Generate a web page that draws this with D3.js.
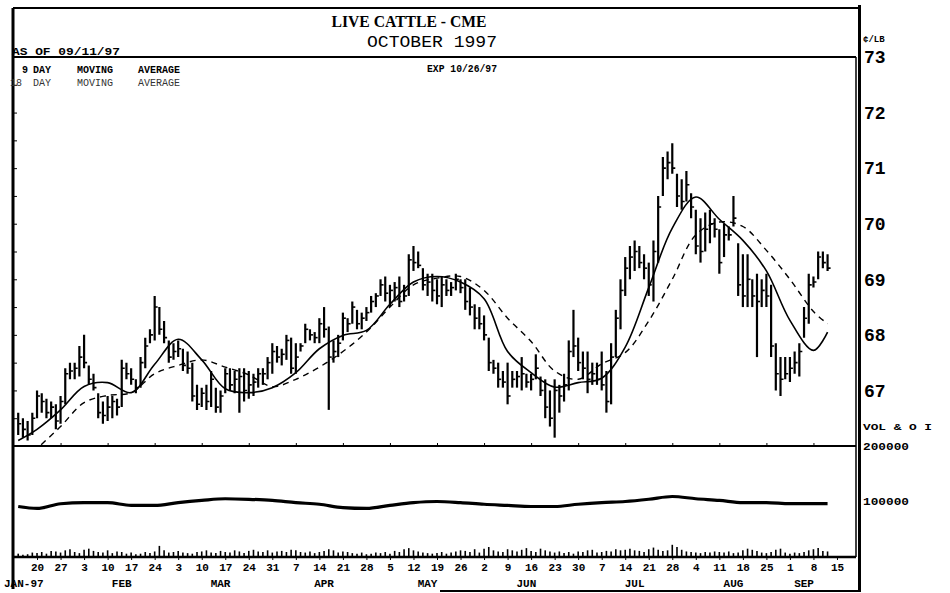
<!DOCTYPE html>
<html>
<head>
<meta charset="utf-8">
<script src="https://cdn.jsdelivr.net/npm/d3@7"></script>
<style>
body { margin: 0; background: #fff; }
svg { display: block; }
text { font-family: "Liberation Mono", "DejaVu Sans Mono", monospace; font-weight: bold; fill: #000; }
</style>
</head>
<body>
<div id="chart"></div>
<script>
// daily bars, one per weekday from 1997-01-14 to 1997-09-11
var firstDay = new Date(1997, 0, 14),
    lastDay = new Date(1997, 8, 11);

var highs = [66.6, 66.5, 66.45, 66.6,
    67.0, 66.95, 66.85, 66.8, 66.75,   66.9, 67.4, 67.5, 67.5, 67.8,
    68.0, 67.45, 67.3, 66.95, 66.8,    66.9, 66.9, 66.85, 67.55, 67.5,
    67.4, 67.2, 67.6, 67.95, 68.1,     68.7, 68.5, 68.25, 67.9, 67.85,
    67.9, 67.75, 67.7, 67.5, 67.1,     67.05, 67.1, 67.35, 67.05, 67.0,
    67.4, 67.4, 67.35, 67.4, 67.4,     67.35, 67.3, 67.4, 67.4, 67.6,
    67.85, 67.8, 67.75, 68.0, 67.95,   67.85, 67.85, 68.2, 68.1, 68.05,
    68.3, 68.5, 68.15, 67.9, 68.0,     68.4, 68.3, 68.6, 68.45, 68.4,
    68.5, 68.7, 68.75, 69.0, 69.05,    68.9, 68.95, 69.05, 68.9, 69.45,
    69.6, 69.5, 69.2, 69.1, 69.1,      69.0, 69.05, 69.0, 68.95, 69.1,
    69.0, 69.0, 68.85, 68.55, 68.5,    68.35, 67.95, 67.55, 67.5, 67.35,
    67.5, 67.35, 67.35, 67.6, 67.3,    67.3, 67.65, 67.25, 67.2, 67.0,
    67.2, 67.1, 67.3, 67.9, 68.45,     67.95, 67.7, 67.7, 67.5, 67.5,
    67.7, 67.35, 67.85, 68.45, 69.0,   69.4, 69.6, 69.7, 69.6, 69.45,
    69.3, 69.7, 70.5, 71.2, 71.3,      71.45, 70.9, 70.8, 70.95, 70.55,
    70.25, 70.1, 70.2, 70.25, 70.1,    69.9, 70.0, 69.95, 70.5, 69.65,
    69.45, 69.45, 69.0, 69.1, 69.0,    69.1, 68.9, 67.85, 67.6, 67.6,
    67.6, 67.7, 67.85, 68.5, 69.1,     69.05, 69.5, 69.5, 69.45];

var lows = [66.2, 66.15, 66.1, 66.2,
    66.5, 66.6, 66.5, 66.5, 66.3,      66.4, 66.75, 67.2, 67.2, 67.25,
    67.4, 67.1, 67.0, 66.5, 66.4,      66.45, 66.5, 66.55, 66.7, 67.2,
    67.1, 66.95, 67.05, 67.4, 67.85,   67.9, 68.0, 67.85, 67.5, 67.55,
    67.6, 67.35, 67.3, 66.8, 66.65,    66.7, 66.65, 66.7, 66.6, 66.6,
    66.95, 67.0, 66.95, 66.6, 66.8,    66.85, 66.9, 67.05, 67.1, 67.2,
    67.3, 67.5, 67.45, 67.55, 67.3,    67.3, 67.7, 67.85, 67.9, 67.85,
    67.85, 67.95, 66.65, 67.5, 67.6,   67.9, 68.05, 68.2, 68.1, 68.1,
    68.25, 68.4, 68.5, 68.7, 68.6,     68.5, 68.6, 68.5, 68.6, 68.7,
    69.15, 69.2, 68.8, 68.7, 68.6,     68.55, 68.5, 68.7, 68.7, 68.8,
    68.75, 68.45, 68.35, 68.1, 68.1,   67.9, 67.35, 67.3, 67.05, 67.05,
    66.75, 67.05, 67.05, 67.0, 67.05,  67.0, 67.2, 66.9, 66.5, 66.35,
    66.15, 66.6, 66.8, 67.0, 67.6,     67.35, 67.2, 66.95, 67.1, 67.1,
    67.0, 66.6, 66.75, 67.6, 68.1,     68.7, 69.0, 69.15, 69.2, 69.0,
    68.7, 68.6, 69.3, 70.5, 70.8,      70.9, 70.3, 70.25, 70.4, 70.1,
    69.45, 69.3, 69.5, 69.65, 69.75,   69.1, 69.4, 69.7, 69.95, 68.7,
    68.5, 68.5, 68.5, 67.6, 68.5,      68.5, 67.6, 67.0, 66.9, 67.2,
    67.15, 67.3, 67.25, 67.95, 68.2,   68.85, 69.0, 69.2, 69.15];

var closes = [66.4, 66.3, 66.2, 66.5,
    66.9, 66.8, 66.6, 66.7, 66.45,     66.8, 67.3, 67.35, 67.4, 67.6,
    67.5, 67.2, 67.05, 66.6, 66.55,    66.7, 66.8, 66.7, 67.4, 67.3,
    67.2, 67.05, 67.5, 67.8, 68.0,     68.5, 68.1, 67.95, 67.6, 67.7,
    67.75, 67.45, 67.4, 66.9, 66.75,   66.95, 66.8, 67.2, 66.7, 66.9,
    67.3, 67.1, 67.2, 67.25, 67.0,     67.1, 67.15, 67.3, 67.3, 67.5,
    67.7, 67.6, 67.65, 67.9, 67.4,     67.6, 67.8, 68.1, 68.0, 67.95,
    68.2, 68.1, 67.6, 67.7, 67.85,     68.3, 68.2, 68.5, 68.2, 68.3,
    68.4, 68.6, 68.7, 68.9, 68.75,     68.8, 68.85, 68.6, 68.7, 69.35,
    69.3, 69.25, 68.9, 68.95, 68.8,    68.7, 68.9, 68.8, 68.85, 69.0,
    68.85, 68.6, 68.5, 68.3, 68.2,     68.0, 67.5, 67.4, 67.2, 67.15,
    66.9, 67.2, 67.25, 67.3, 67.15,    67.2, 67.4, 67.0, 66.7, 66.5,
    67.0, 66.9, 67.1, 67.7, 67.8,      67.5, 67.4, 67.2, 67.3, 67.2,
    67.1, 66.8, 67.6, 68.3, 68.8,      69.2, 69.4, 69.5, 69.3, 69.2,
    68.9, 69.5, 70.3, 71.0, 71.1,      71.0, 70.5, 70.4, 70.7, 70.3,
    69.6, 69.5, 69.9, 70.0, 69.9,      69.3, 69.8, 69.8, 70.1, 68.9,
    68.7, 69.0, 68.7, 68.6, 68.8,      68.7, 67.8, 67.3, 67.2, 67.3,
    67.4, 67.5, 67.7, 68.3, 68.9,      68.95, 69.4, 69.3, 69.2];

// daily volume, thousands of contracts
var volume = [6, 4, 5, 8,
    7, 9, 6, 11, 10,    8, 12, 14, 9, 7,    13, 15, 11, 9, 8,   12, 7, 10, 9, 6,
    8, 5, 6, 9, 7,      10, 20, 12, 8, 9,   11, 8, 7, 6, 9,     10, 12, 8, 7, 11,
    9, 8, 12, 10, 7,    11, 13, 10, 9, 12,  8, 10, 11, 9, 13,   12, 9, 8, 10, 7,
    9, 11, 14, 12, 8,   10, 9, 7, 6, 8,     5, 6, 8, 7, 9,      6, 11, 9, 14, 16,
    12, 10, 8, 7, 6,    7, 9, 6, 8, 10,     12, 11, 9, 14, 8,   15, 18, 12, 10, 9,
    14, 12, 10, 13, 16, 11, 9, 15, 12, 10,  8, 10, 7, 9, 6,     10, 9, 12, 13, 8,
    9, 11, 10, 14, 12,  13, 15, 12, 11, 9,  14, 17, 13, 11, 12, 22, 18, 13, 10, 9,
    8, 7, 9, 8, 10,     9, 8, 10, 7, 8,     12, 15, 13, 11, 8,  7, 9, 13, 15, 8,
    6, 8, 7, 9, 12,     14, 16, 11, 10];

// weekly readings (first day, every Monday, last day)
var ma9 = [66.1, 66.3, 66.65, 67.07, 67.14, 66.96, 67.47, 67.92, 67.55, 67.03, 66.96,
    67.05, 67.32, 67.75, 67.99, 68.08, 68.55, 68.95, 69.05, 68.95, 68.65, 67.7,
    67.32, 67.06, 67.14, 67.22, 67.78, 68.85, 69.92, 70.48, 70.08, 69.7, 69.15,
    68.26, 67.72, 68.05];
var ma18 = [65.6, 65.95, 66.35, 66.78, 66.91, 66.96, 67.3, 67.45, 67.55, 67.42, 67.28,
    67.07, 67.2, 67.42, 67.7, 68.05, 68.5, 68.9, 69.02, 69.05, 68.8, 68.3,
    67.88, 67.35, 67.2, 67.48, 67.68, 68.25, 69.0, 69.8, 70.03, 69.95, 69.52,
    69.0, 68.42, 68.2];
// open interest, thousands
var openInterest = [91, 87.5, 96, 98, 98, 93, 93, 98, 102, 105, 104, 102, 98, 95, 89,
    87.5, 93, 98, 100, 98, 95, 93, 91, 91, 95, 98, 100, 104, 109, 105, 102, 98,
    98, 96, 96, 96];

var priceTicks = [67, 68, 69, 70, 71, 72, 73];
var volTicks = [100000, 200000];
var monthNames = ["JAN-97", "FEB", "MAR", "APR", "MAY", "JUN", "JUL", "AUG", "SEP"];
var monthDates = ["1997-01-13", "1997-02-13", "1997-03-14", "1997-04-15", "1997-05-15",
    "1997-06-13", "1997-07-16", "1997-08-14", "1997-09-04"];

// layout
var width = 950, height = 593;
var left = 13.5, right = 855.8,
    priceTop = 57, priceBottom = 446, volBottom = 557;

var svg = d3.select("#chart").append("svg")
    .attr("width", width)
    .attr("height", height);

var fmt = d3.timeFormat("%Y-%m-%d");
var isWeekday = function(d) { return d.getDay() > 0 && d.getDay() < 6; };

// weekday calendar so each trading day gets the same slot
var calendar = d3.timeDay.range(new Date(1997, 0, 13), new Date(1997, 8, 20)).filter(isWeekday);
var x = d3.scalePoint()
    .domain(calendar.map(fmt))
    .range([left, right]);

var days = calendar.filter(function(d) { return d >= firstDay && d <= lastDay; });
var bars = days.map(function(d, i) {
    return {date: fmt(d), high: highs[i], low: lows[i], close: closes[i], vol: volume[i]};
});

var mondays = d3.timeMonday.range(new Date(1997, 0, 20), new Date(1997, 8, 16));
var weekly = [firstDay].concat(mondays.filter(function(d) { return d <= lastDay; }), [lastDay]).map(fmt);

var y = d3.scaleLinear().domain([66, 73]).range([priceBottom, priceTop]);
var yv = d3.scaleLinear().domain([0, 200000]).range([volBottom, priceBottom]);

svg.append("clipPath").attr("id", "priceClip")
    .append("rect")
    .attr("x", left).attr("y", priceTop)
    .attr("width", right - left).attr("height", priceBottom - priceTop);

// price bars
var gp = svg.append("g").attr("clip-path", "url(#priceClip)");

gp.selectAll("line.hl")
    .data(bars)
    .enter().append("line")
    .attr("class", "hl")
    .attr("x1", function(d) { return x(d.date); })
    .attr("x2", function(d) { return x(d.date); })
    .attr("y1", function(d) { return y(d.high); })
    .attr("y2", function(d) { return y(d.low); })
    .attr("stroke", "#000")
    .attr("stroke-width", 2.2);

gp.selectAll("line.cl")
    .data(bars)
    .enter().append("line")
    .attr("class", "cl")
    .attr("x1", function(d) { return x(d.date); })
    .attr("x2", function(d) { return x(d.date) + 3; })
    .attr("y1", function(d) { return y(d.close); })
    .attr("y2", function(d) { return y(d.close); })
    .attr("stroke", "#000")
    .attr("stroke-width", 1.6);

// moving averages
var maLine = function(vals) {
    return d3.line()
        .x(function(d, i) { return x(weekly[i]); })
        .y(function(d) { return y(d); })
        .curve(d3.curveCatmullRom)(vals);
};

gp.append("path")
    .attr("d", maLine(ma9))
    .attr("fill", "none")
    .attr("stroke", "#000")
    .attr("stroke-width", 1.6);

gp.append("path")
    .attr("d", maLine(ma18))
    .attr("fill", "none")
    .attr("stroke", "#000")
    .attr("stroke-width", 1.4)
    .attr("stroke-dasharray", "6,5");

// volume bars
svg.append("g").selectAll("line")
    .data(bars)
    .enter().append("line")
    .attr("x1", function(d) { return x(d.date); })
    .attr("x2", function(d) { return x(d.date); })
    .attr("y1", yv(0))
    .attr("y2", function(d) { return yv(d.vol * 1000); })
    .attr("stroke", "#000")
    .attr("stroke-width", 1.6);

// open interest
svg.append("path")
    .datum(openInterest)
    .attr("d", d3.line()
        .x(function(d, i) { return x(weekly[i]); })
        .y(function(d) { return yv(d * 1000); })
        .curve(d3.curveMonotoneX))
    .attr("fill", "none")
    .attr("stroke", "#000")
    .attr("stroke-width", 3.2);

// frame
var frame = svg.append("g").attr("stroke", "#000").attr("fill", "none");
frame.append("line").attr("x1", 13).attr("x2", 860).attr("y1", 8).attr("y2", 8).attr("stroke-width", 2);
frame.append("line").attr("x1", 13).attr("x2", 856).attr("y1", priceTop).attr("y2", priceTop).attr("stroke-width", 2);
frame.append("line").attr("x1", 13).attr("x2", 856).attr("y1", priceBottom).attr("y2", priceBottom).attr("stroke-width", 2);
frame.append("line").attr("x1", 13).attr("x2", 856).attr("y1", volBottom).attr("y2", volBottom).attr("stroke-width", 2.5);
frame.append("line").attr("x1", 13).attr("x2", 13).attr("y1", 8).attr("y2", 589).attr("stroke-width", 3);
frame.append("line").attr("x1", 856).attr("x2", 856).attr("y1", priceTop).attr("y2", volBottom).attr("stroke-width", 1.5);
frame.append("line").attr("x1", 859.5).attr("x2", 859.5).attr("y1", 5).attr("y2", 592).attr("stroke-width", 3);
frame.append("line").attr("x1", 440).attr("x2", 861).attr("y1", 591).attr("y2", 591).attr("stroke-width", 2);

// small ticks on the left edge and on the panel divider
svg.append("g")
    .attr("transform", "translate(14,0)")
    .call(d3.axisRight(y).tickValues(d3.range(66.5, 73, 0.5)).tickSize(3).tickFormat(""))
    .call(function(g) { g.select(".domain").remove(); });

svg.append("g")
    .attr("transform", "translate(0," + priceBottom + ")")
    .call(d3.axisTop(x).tickValues(mondays.filter(function(d, i) { return i % 2 === 1; }).map(fmt)).tickSize(3).tickFormat(""))
    .call(function(g) { g.select(".domain").remove(); });

// price axis
svg.append("g")
    .attr("transform", "translate(860,0)")
    .call(d3.axisRight(y).tickValues(priceTicks).tickSize(0).tickPadding(4).tickFormat(d3.format("d")))
    .call(function(g) {
        g.select(".domain").remove();
        g.selectAll("text").style("font-size", "18px").style("font-family", "'Liberation Mono', monospace");
    });

// volume axis
svg.append("g")
    .attr("transform", "translate(860,0)")
    .call(d3.axisRight(yv).tickValues(volTicks).tickSize(0).tickPadding(3).tickFormat(d3.format("d")))
    .call(function(g) {
        g.select(".domain").remove();
        g.selectAll("text").style("font-size", "10px").attr("textLength", 46).attr("lengthAdjust", "spacingAndGlyphs");
    });

// date axis
svg.append("g")
    .attr("transform", "translate(0," + volBottom + ")")
    .call(d3.axisBottom(x)
        .tickValues(mondays.map(fmt))
        .tickSize(3)
        .tickPadding(3)
        .tickFormat(function(k) { return +k.slice(8); }))
    .call(function(g) {
        g.select(".domain").remove();
        g.selectAll("text").style("font-size", "11px").style("font-family", "'Liberation Mono', monospace");
    });

svg.append("g").selectAll("text")
    .data(monthNames)
    .enter().append("text")
    .attr("x", function(d, i) { return i === 0 ? 4 : x(monthDates[i]); })
    .attr("y", 587)
    .attr("text-anchor", function(d, i) { return i === 0 ? "start" : "middle"; })
    .style("font-size", "11px")
    .text(function(d) { return d; });

// titles and notes
svg.append("text").attr("x", 409).attr("y", 27).attr("text-anchor", "middle")
    .attr("textLength", 155).attr("lengthAdjust", "spacingAndGlyphs")
    .style("font-size", "17px").style("font-family", "'Liberation Serif', serif")
    .text("LIVE CATTLE - CME");
svg.append("text").attr("x", 432).attr("y", 47).attr("text-anchor", "middle")
    .attr("textLength", 130).attr("lengthAdjust", "spacingAndGlyphs")
    .style("font-size", "16px").style("font-weight", "normal")
    .text("OCTOBER 1997");
svg.append("text").attr("x", 462).attr("y", 72).attr("text-anchor", "middle")
    .attr("textLength", 70).attr("lengthAdjust", "spacingAndGlyphs")
    .style("font-size", "10px")
    .text("EXP 10/26/97");
svg.append("text").attr("x", 12).attr("y", 55)
    .attr("textLength", 108).attr("lengthAdjust", "spacingAndGlyphs")
    .style("font-size", "11px")
    .text("AS OF 09/11/97");

var legend = [
    {n: "9", y: 73, fill: "#000", weight: "bold"},
    {n: "18", y: 86, fill: "#333", weight: "normal"}
];
legend.forEach(function(l) {
    var t = svg.append("text").attr("y", l.y).style("font-size", "10px")
        .style("fill", l.fill).style("font-weight", l.weight);
    t.append("tspan").attr("x", l.n.length > 1 ? 10 : 22).text(l.n);
    t.append("tspan").attr("x", 33).text("DAY");
    t.append("tspan").attr("x", 77).text("MOVING");
    t.append("tspan").attr("x", 138).text("AVERAGE");
});

svg.append("text").attr("x", 863).attr("y", 42).style("font-size", "9px").text("¢/LB");
svg.append("text").attr("x", 863).attr("y", 430)
    .attr("textLength", 69).attr("lengthAdjust", "spacingAndGlyphs")
    .style("font-size", "9px").text("VOL & O I");
</script>
</body>
</html>
